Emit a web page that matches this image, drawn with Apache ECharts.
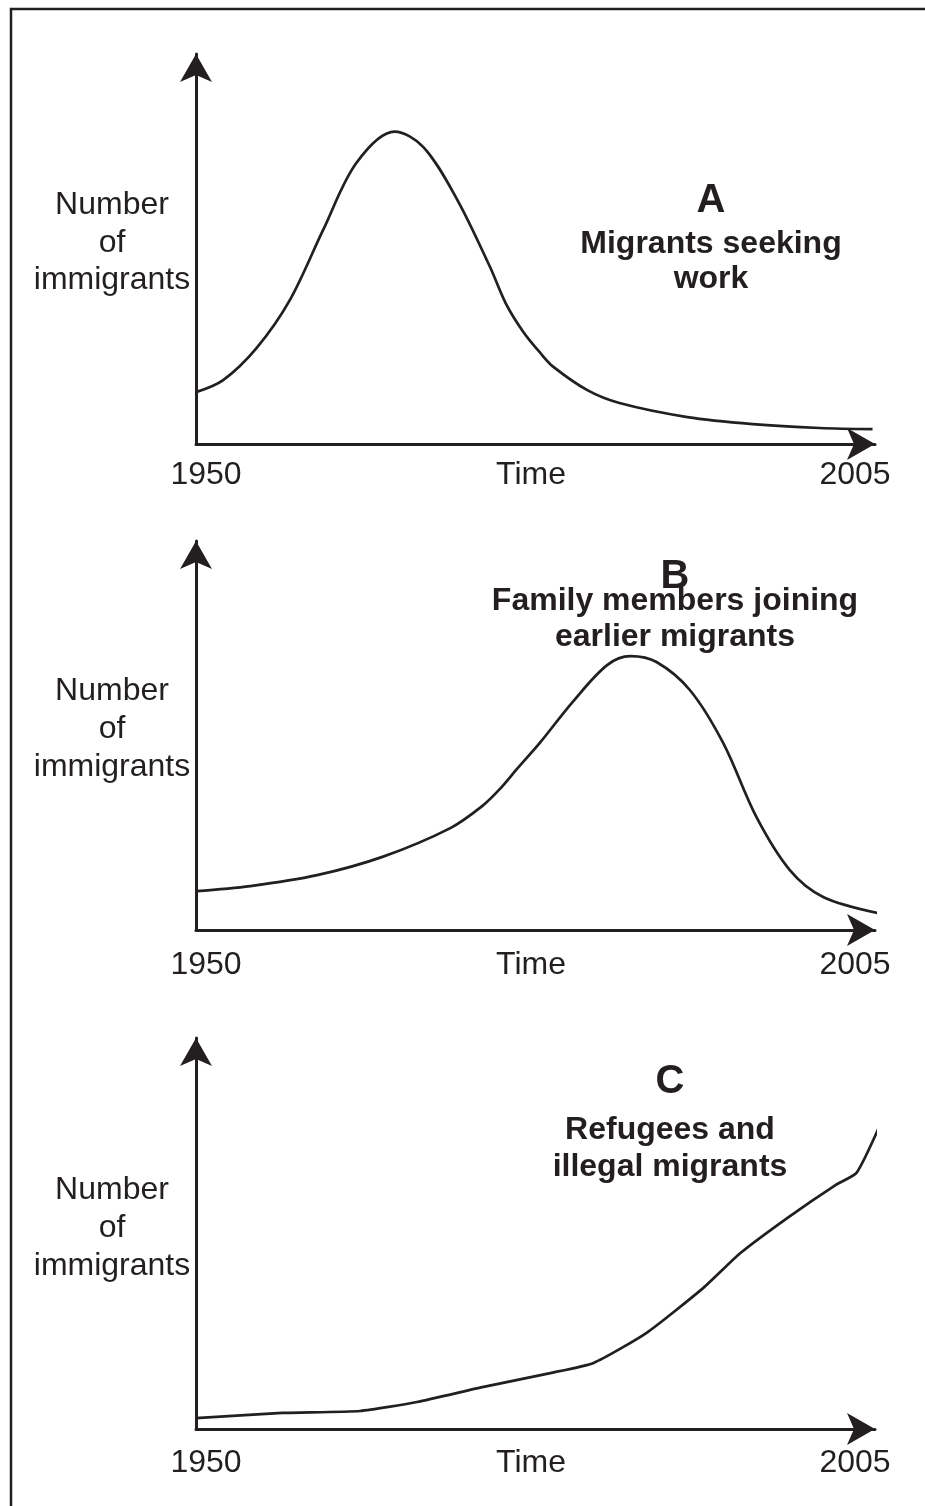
<!DOCTYPE html>
<html>
<head>
<meta charset="utf-8">
<script src="https://cdn.jsdelivr.net/npm/echarts@6/dist/echarts.min.js"></script>
<style>
html,body{margin:0;padding:0;background:#fff;}
#chart{width:925px;height:1506px;}
</style>
</head>
<body>
<div id="chart"></div>
<script>
// ---- Data (x = year, y = relative number, 0..100) ----
const yearsA  = [1950.0, 1952.2, 1954.9, 1957.6, 1960.3, 1963.0, 1966.1, 1968.4, 1971.1, 1973.8, 1975.1, 1976.5, 1977.9, 1978.9, 1981.7, 1984.3, 1989.8, 1995.1, 2000.5, 2004.8];
const valuesA = [13.3,   16.4,   24.6,   36.9,   54.9,   72.1,   80.1,   76.2,   63.0,   45.5,   36.0,   28.8,   23.3,   19.9,   13.8,   10.5,   6.9,    5.1,    4.1,    3.8];

const yearsB  = [1950.0, 1954.4, 1959.8, 1965.1, 1970.6, 1973.2, 1974.6, 1976.0, 1977.9, 1980.5, 1983.3, 1985.2, 1987.3, 1990.0, 1992.7, 1995.4, 1998.1, 2000.8, 2005.2];
const valuesB = [10.0,   11.3,   14.1,   18.8,   26.2,   31.9,   36.2,   41.4,   48.3,   58.6,   68.1,   70.4,   68.9,   61.7,   48.1,   29.0,   15.4,   8.5,    4.4];

const yearsC  = [1950.0, 1957.0, 1963.3, 1967.9, 1973.2, 1978.7, 1982.2, 1986.5, 1991.1, 1994.1, 1998.0, 2001.8, 2003.5, 2005.3];
const valuesC = [2.8,    4.1,    4.6,    6.9,    10.7,   14.3,   16.9,   24.6,   36.1,   45.0,   54.2,   62.4,   65.5,   77.0];

const xTickLabels = ['1950', 'Time', '2005'];
const yAxisTitle  = ['Number', 'of', 'immigrants'];
const panelLetters = ['A', 'B', 'C'];
const panelTitles = [
  ['Migrants seeking', 'work'],
  ['Family members joining', 'earlier migrants'],
  ['Refugees and', 'illegal migrants']
];

// ---- Layout / style ----
const INK = '#231f20';
const FONT = '"Liberation Sans", Arial, Helvetica, sans-serif';
const grids = [
  {left: 196, top: 54,   width: 679, height: 390},
  {left: 196, top: 541,  width: 679, height: 389},
  {left: 196, top: 1038, width: 679, height: 391}
];
const tickLabelY = [475, 965, 1463];
const tickLabelX = [206, 531, 855];
const yTitleY = [[205, 243, 280], [691, 729, 767], [1190, 1228, 1266]];
const titlePos = [
  {x: 711, ys: [201, 244, 279]},
  {x: 675, ys: [577, 601, 637]},
  {x: 670, ys: [1082, 1130, 1167]}
];

const seriesData = [
  yearsA.map((y, i) => [y, valuesA[i]]),
  yearsB.map((y, i) => [y, valuesB[i]]),
  yearsC.map((y, i) => [y, valuesC[i]])
];
const smoothness = [0.33, 0.33, 0.18];

const axisLine = {
  show: true, onZero: false,
  symbol: ['none', 'arrow'],
  symbolSize: [24, 28],
  symbolOffset: [0, 0],
  lineStyle: {color: INK, width: 3}
};

const graphics = [
  {type: 'rect', shape: {x: 11, y: 9, width: 1000, height: 1600},
   style: {fill: 'none', stroke: INK, lineWidth: 2.5}, silent: true}
];
for (let p = 0; p < 3; p++) {
  xTickLabels.forEach((t, i) => graphics.push({
    type: 'text', x: tickLabelX[i], y: tickLabelY[p],
    style: {text: t, font: '32px ' + FONT, fill: INK, align: 'center', verticalAlign: 'middle'}
  }));
  yAxisTitle.forEach((t, i) => graphics.push({
    type: 'text', x: 112, y: yTitleY[p][i],
    style: {text: t, font: '32px ' + FONT, fill: INK, align: 'center', verticalAlign: 'middle'}
  }));
  graphics.push({
    type: 'text', x: titlePos[p].x, y: titlePos[p].ys[0],
    style: {text: panelLetters[p], font: 'bold 40px ' + FONT, fill: INK, align: 'center', verticalAlign: 'middle'}
  });
  panelTitles[p].forEach((t, i) => graphics.push({
    type: 'text', x: titlePos[p].x, y: titlePos[p].ys[i + 1],
    style: {text: t, font: 'bold 32px ' + FONT, fill: INK, align: 'center', verticalAlign: 'middle'}
  }));
}

const chart = echarts.init(document.getElementById('chart'), null, {renderer: 'canvas'});
chart.setOption({
  animation: false,
  backgroundColor: '#fff',
  grid: grids.map(g => Object.assign({containLabel: false, outerBoundsMode: 'none'}, g)),
  xAxis: grids.map((g, i) => ({
    type: 'value', gridIndex: i, min: 1950, max: 2005,
    axisLine: axisLine, axisTick: {show: false}, axisLabel: {show: false}, splitLine: {show: false}
  })),
  yAxis: grids.map((g, i) => ({
    type: 'value', gridIndex: i, min: 0, max: 100,
    axisLine: axisLine, axisTick: {show: false}, axisLabel: {show: false}, splitLine: {show: false}
  })),
  series: seriesData.map((d, i) => ({
    type: 'line', xAxisIndex: i, yAxisIndex: i, data: d,
    smooth: smoothness[i], symbol: 'none', clip: false,
    lineStyle: {color: INK, width: 2.7}
  })),
  graphic: graphics
});
</script>
</body>
</html>
